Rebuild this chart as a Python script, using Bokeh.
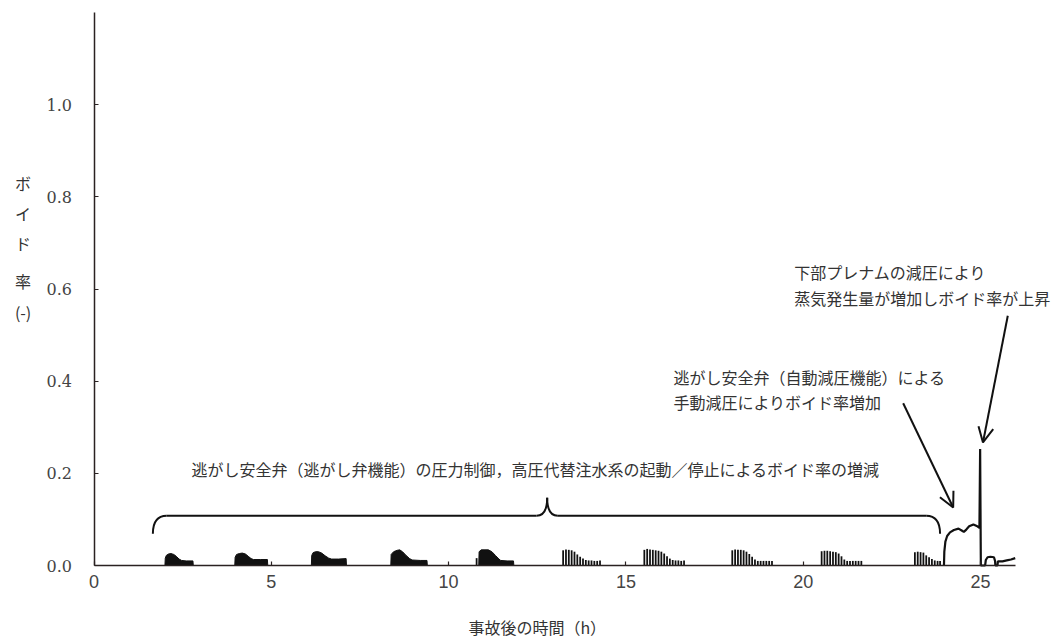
from bokeh.plotting import figure
from bokeh.models import Range1d, Label, Arrow, OpenHead, FixedTicker, CustomJSTickFormatter
from bokeh.embed import file_html
from bokeh.resources import INLINE

# ---------------- data ----------------
# filled humps: pressure-control cycles 1-5 (time h, void fraction)
hump_t = [2.00, 2.01, 2.04, 2.10, 2.17, 2.25, 2.32, 2.40, 2.47, 2.60, 2.79, 2.80,
          3.97, 3.98, 4.02, 4.10, 4.18, 4.27, 4.35, 4.43, 4.50, 4.70, 4.89, 4.90,
          6.13, 6.14, 6.18, 6.25, 6.33, 6.42, 6.52, 6.62, 6.70, 6.90, 7.11, 7.12,
          8.37, 8.38, 8.45, 8.55, 8.62, 8.70, 8.80, 8.90, 8.97, 9.20, 9.39, 9.40,
          10.85, 10.86, 10.92, 11.00, 11.12, 11.22, 11.32, 11.42, 11.47, 11.65, 11.83, 11.84]
hump_v = [0.0, 0.016, 0.022, 0.025, 0.026, 0.024, 0.020, 0.014, 0.011, 0.010, 0.010, 0.0,
          0.0, 0.018, 0.024, 0.026, 0.027, 0.025, 0.020, 0.015, 0.013, 0.013, 0.013, 0.0,
          0.0, 0.022, 0.028, 0.030, 0.030, 0.027, 0.021, 0.016, 0.014, 0.014, 0.015, 0.0,
          0.0, 0.024, 0.030, 0.033, 0.034, 0.030, 0.022, 0.015, 0.012, 0.011, 0.011, 0.0,
          0.0, 0.030, 0.034, 0.034, 0.034, 0.030, 0.022, 0.014, 0.011, 0.010, 0.010, 0.0]

# oscillating bars: cycles 6-10 (and the thin spike before cycle 5)
bar_t = [10.79,
         13.23, 13.31, 13.39, 13.47, 13.55, 13.63, 13.71, 13.79, 13.87, 13.95, 14.03, 14.11, 14.19, 14.27,
         15.52, 15.60, 15.68, 15.76, 15.84, 15.92, 16.00, 16.08, 16.16, 16.24, 16.32, 16.40, 16.48, 16.56, 16.64,
         18.00, 18.08, 18.16, 18.24, 18.32, 18.40, 18.48, 18.56, 18.64, 18.72, 18.80, 18.88, 18.96, 19.04, 19.12,
         20.52, 20.60, 20.68, 20.76, 20.84, 20.92, 21.00, 21.08, 21.16, 21.24, 21.32, 21.40, 21.48, 21.56, 21.64,
         23.15, 23.23, 23.31, 23.39, 23.47, 23.55, 23.63, 23.71, 23.79, 23.86]
bar_v = [0.016,
         0.033, 0.035, 0.034, 0.033, 0.030, 0.024, 0.019, 0.015, 0.012, 0.011, 0.011, 0.010, 0.010, 0.011,
         0.034, 0.036, 0.035, 0.034, 0.033, 0.032, 0.030, 0.026, 0.020, 0.015, 0.012, 0.011, 0.011, 0.010, 0.011,
         0.033, 0.035, 0.034, 0.034, 0.033, 0.030, 0.025, 0.019, 0.013, 0.010, 0.010, 0.010, 0.010, 0.010, 0.010,
         0.031, 0.032, 0.032, 0.031, 0.030, 0.029, 0.026, 0.020, 0.013, 0.010, 0.010, 0.010, 0.010, 0.010, 0.010,
         0.029, 0.030, 0.029, 0.028, 0.022, 0.018, 0.014, 0.011, 0.010, 0.010]

# depressurisation phase (outlined line)
late_t = [23.97, 23.98, 24.01, 24.06, 24.14, 24.25, 24.38, 24.47, 24.53, 24.60, 24.68, 24.80, 24.91,
          24.97, 24.99, 25.01, 25.13, 25.15, 25.20, 25.28, 25.38, 25.41, 25.42, 25.48, 25.49,
          25.62, 25.74, 25.86, 25.98]
late_v = [0.0, 0.030, 0.052, 0.064, 0.072, 0.077, 0.080, 0.076, 0.073, 0.078, 0.085, 0.089, 0.085,
          0.082, 0.253, 0.0, 0.0, 0.012, 0.018, 0.019, 0.018, 0.010, 0.0, 0.0, 0.009,
          0.009, 0.011, 0.013, 0.016]

x_ticks = [0, 5, 10, 15, 20, 25]
y_ticks = [0.0, 0.2, 0.4, 0.6, 0.8, 1.0]
x_limits = (0, 26)
y_limits = (0, 1.2)

y_title_chars = ["ボ", "イ", "ド", "率", "(-)"]
x_title = "事故後の時間（h）"
note_brace = "逃がし安全弁（逃がし弁機能）の圧力制御，高圧代替注水系の起動／停止によるボイド率の増減"
note_manual = ["逃がし安全弁（自動減圧機能）による", "手動減圧によりボイド率増加"]
note_plenum = ["下部プレナムの減圧により", "蒸気発生量が増加しボイド率が上昇"]

# ---------------- figure ----------------
INK = "#111111"
AX = "#2a2222"
TXT = "#333333"
JP = "Noto Sans CJK JP"

# the frame fills the whole canvas; axes are pinned at x=0 / y=0
p = figure(width=1058, height=644, x_range=Range1d(-2.637, 27.20), y_range=Range1d(-0.1714, 1.2261),
           output_backend="svg", toolbar_location=None,
           min_border_left=0, min_border_right=0, min_border_top=0, min_border_bottom=0)
p.outline_line_color = None
p.xgrid.visible = False
p.ygrid.visible = False
p.background_fill_color = "white"

xa, ya = p.xaxis[0], p.yaxis[0]
xa.fixed_location = 0
ya.fixed_location = 0
xa.bounds = x_limits
ya.bounds = y_limits
for ax in (xa, ya):
    ax.axis_line_color = AX
    ax.axis_line_width = 1.5
    ax.major_tick_line_color = AX
    ax.major_tick_line_width = 1.2
    ax.major_tick_in = 4
    ax.major_tick_out = 0
    ax.minor_tick_line_color = None
    ax.major_label_text_color = "#444444"

xa.ticker = FixedTicker(ticks=x_ticks)
ya.ticker = FixedTicker(ticks=y_ticks)
ya.formatter = CustomJSTickFormatter(code="return tick.toFixed(1);")
xa.major_label_text_font = "Liberation Sans"
xa.major_label_text_font_size = "18px"
xa.major_label_standoff = 9
ya.major_label_text_font = "DejaVu Serif"
ya.major_label_text_font_size = "16px"
ya.major_label_standoff = 22

# data marks
p.varea(x=hump_t, y1=[0.0] * len(hump_t), y2=hump_v, fill_color=INK)
p.line(x=hump_t, y=hump_v, line_color=INK, line_width=1)
p.vbar(x=bar_t, top=bar_v, bottom=0, width=0.05, fill_color=INK, line_color=None)
p.line(x=late_t, y=late_v, line_color=INK, line_width=2.2)

# brace
BR_Y, BR_END, BR_TIP = 0.108, 0.069, 0.147
BR_L, BR_M, BR_R = 1.66, 12.78, 23.86
p.quadratic(x0=[BR_L, BR_M - 0.30, BR_M, BR_R - 0.39],
            y0=[BR_END, BR_Y, BR_TIP, BR_Y],
            x1=[BR_L + 0.39, BR_M, BR_M + 0.30, BR_R],
            y1=[BR_Y, BR_TIP, BR_Y, BR_END],
            cx=[BR_L, BR_M, BR_M, BR_R],
            cy=[BR_Y, BR_Y, BR_Y, BR_Y],
            line_color=INK, line_width=2)
p.segment(x0=[BR_L + 0.39, BR_M + 0.30], y0=[BR_Y, BR_Y],
          x1=[BR_M - 0.30, BR_R - 0.39], y1=[BR_Y, BR_Y],
          line_color=INK, line_width=2)

# arrows
p.add_layout(Arrow(end=OpenHead(size=15, line_width=2, line_color=INK),
                   x_start=22.82, y_start=0.352, x_end=24.23, y_end=0.126,
                   line_width=2, line_color=INK))
p.add_layout(Arrow(end=OpenHead(size=15, line_width=2, line_color=INK),
                   x_start=25.77, y_start=0.542, x_end=25.07, y_end=0.267,
                   line_width=2, line_color=INK))

def lab(x, y, text, size="16px", align="left", font=JP, color=TXT):
    p.add_layout(Label(x=x, y=y, text=text, text_font=font, text_font_size=size,
                       text_color=color, text_align=align, text_baseline="middle"))

lab(12.45, 0.210, note_brace, align="center")
lab(16.34, 0.408, note_manual[0])
lab(16.34, 0.354, note_manual[1])
lab(19.75, 0.636, note_plenum[0])
lab(19.75, 0.581, note_plenum[1])

# axis titles
for ch, yy in zip(y_title_chars, [0.831, 0.766, 0.699, 0.618, 0.551]):
    lab(-2.0, yy, ch, size="16px", align="center")
lab(12.5, -0.134, x_title, align="center")

open("out.html", "w").write(file_html(p, INLINE))
